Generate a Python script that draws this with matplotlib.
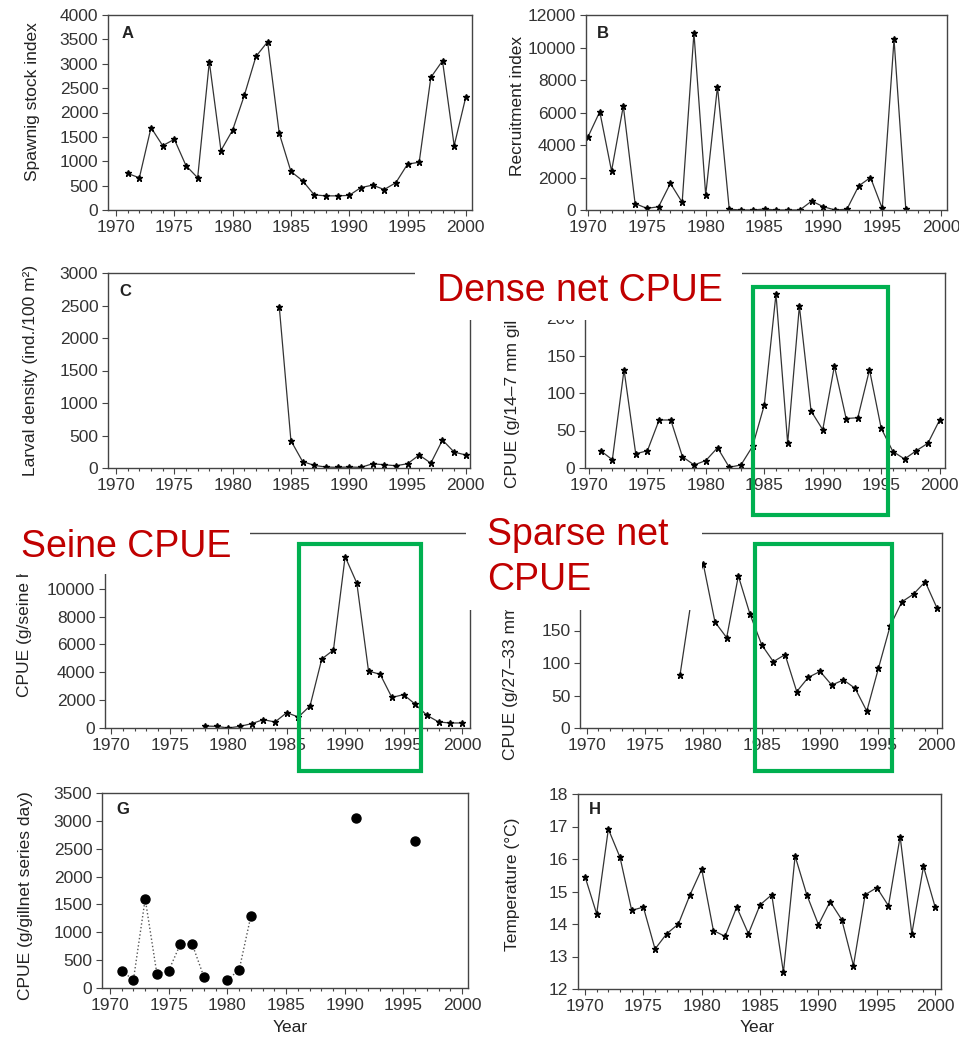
import numpy as np
import matplotlib.pyplot as plt
from matplotlib.patches import Rectangle
from matplotlib.ticker import MultipleLocator

plt.rcParams.update({
    "font.family": ["Liberation Sans", "DejaVu Sans"],
    "font.size": 12.5,
    "axes.linewidth": 1.0,
    "axes.edgecolor": "#444444",
    "xtick.color": "#444444",
    "ytick.color": "#444444",
    "xtick.labelcolor": "#333333",
    "ytick.labelcolor": "#333333",
    "xtick.direction": "out",
    "ytick.direction": "out",
})

ROT = "#C00000"
GRUEN = "#00B050"
LINIE = "#333333"
nan = np.nan

# ---------------------------------------------------------------
# Daten
# ---------------------------------------------------------------
jahre_a = list(range(1971, 2001))
laicher_a = [750, 660, 1690, 1320, 1450, 910, 660, 3040, 1220, 1640,
             2350, 3150, 3450, 1570, 790, 600, 310, 290, 290, 300,
             460, 510, 420, 560, 940, 980, 2720, 3060, 1320, 2320]

jahre_b = list(range(1970, 1998))
rekrut_b = [4500, 6050, 2400, 6400, 400, 100, 200, 1640, 470, 10900,
            920, 7600, 50, 0, 0, 60, 0, 0, 0, 550,
            200, 0, 50, 1480, 2000, 100, 10500, 60]

jahre_c = list(range(1984, 2001))
larven_c = [2480, 420, 100, 40, 15, 10, 15, 10, 65, 50,
            35, 65, 200, 75, 430, 245, 200]

jahre_d = list(range(1971, 2001))
dicht_d = [23, 11, 131, 19, 23, 64, 64, 15, 4, 10,
           27, 1, 4, 29, 84, 232, 33, 216, 76, 51,
           136, 66, 67, 131, 53, 22, 12, 23, 33, 64]

jahre_e = list(range(1978, 2001))
wade_e = [140, 120, 0, 120, 310, 600, 430, 1100, 790, 1590,
          4950, 5600, 12300, 10400, 4090, 3850, 2190, 2400, 1700, 910,
          430, 360, 360]

jahre_f = list(range(1978, 2001))
weit_f = [81, 200, 252, 163, 139, 234, 175, 128, 102, 113,
          56, 78, 87, 66, 74, 61, 26, 92, 157, 194,
          206, 225, 185]

jahre_g = list(range(1971, 1997))
stell_g = [300, 150, 1600, 250, 310, 790, 790, 200, nan, 150,
           320, 1290, nan, nan, nan, nan, nan, nan, nan, nan,
           3060, nan, nan, nan, nan, 2640]

jahre_h = list(range(1970, 2001))
temp_h = [15.46, 14.31, 16.92, 16.05, 14.42, 14.52, 13.23, 13.70, 14.00, 14.90,
          15.69, 13.80, 13.62, 14.52, 13.70, 14.59, 14.90, 12.51, 16.09, 14.90,
          13.98, 14.69, 14.13, 12.72, 14.90, 15.12, 14.56, 16.69, 13.70, 15.77,
          14.52]

# ---------------------------------------------------------------
# Layout in Pixeln
# ---------------------------------------------------------------
W, H = 959, 1038
fig = plt.figure(figsize=(W / 100, H / 100), dpi=100)


def panel(box, xlim, ylim, ystep, ylabel, lab_right, lab_cy, buchstabe=None, bpos=None):
    l, t, r, b = box
    ax = fig.add_axes([l / W, 1 - b / H, (r - l) / W, (b - t) / H])
    ax.set_xlim(*xlim)
    ax.set_ylim(*ylim)
    ax.xaxis.set_major_locator(MultipleLocator(5))
    ax.xaxis.set_minor_locator(MultipleLocator(1))
    ax.yaxis.set_major_locator(MultipleLocator(ystep))
    ax.tick_params(which="major", length=4, width=0.8, pad=3)
    ax.tick_params(which="minor", length=2.5, width=0.8)
    ax.set_ylabel(ylabel, color="#222222")
    ax.yaxis.set_label_coords((lab_right - l) / (r - l), 1 - (lab_cy - t) / (b - t))
    if buchstabe:
        fig.text(bpos[0] / W, 1 - bpos[1] / H, buchstabe, ha="center", va="center",
                 fontsize=12, fontweight="bold", color="#222222")
    return ax


def linie(ax, x, y):
    ax.plot(x, y, color=LINIE, linewidth=0.9, marker="*", markersize=5,
            markerfacecolor="black", markeredgecolor="black")


axA = panel((108, 15, 472, 210), (1969.31, 2000.53), (0, 4000), 500,
            "Spawnig stock index", 40, 102, "A", (128, 33))
linie(axA, jahre_a, laicher_a)

axB = panel((586, 15, 947, 210), (1969.83, 2000.5), (0, 12000), 2000,
            "Recruitment index", 525, 106, "B", (603, 34))
linie(axB, jahre_b, rekrut_b)

axC = panel((108, 273, 470, 468), (1969.31, 2000.36), (0, 3000), 500,
            "Larval density (ind./100 m²)", 38, 370, "C", (125, 292))
linie(axC, jahre_c, larven_c)

axD = panel((585, 273, 945, 468), (1969.66, 2000.46), (0, 260), 50,
            "CPUE (g/14–7 mm gillnet day)", 520, 371)
linie(axD, jahre_d, dicht_d)

axE = panel((105, 533, 470, 728), (1969.46, 2000.68), (0, 14000), 2000,
            "CPUE (g/seine haul)", 32, 618)
linie(axE, jahre_e, wade_e)

axF = panel((580, 533, 942, 728), (1969.44, 2000.44), (0, 300), 50,
            "CPUE (g/27–33 mm gillnet day)", 518, 638)
linie(axF, jahre_f, weit_f)

axG = panel((102, 793, 468, 988), (1969.32, 2000.5), (0, 3500), 500,
            "CPUE (g/gillnet series day)", 33, 896, "G", (123, 810))
axG.plot(jahre_g, stell_g, color="#555555", linewidth=1.0, linestyle=":",
         marker="o", markersize=6.5, markerfacecolor="black", markeredgecolor="black")
axG.set_xlabel("Year", color="#222222")
axG.xaxis.set_label_coords((290 - 102) / (468 - 102), -(1028 - 988) / (988 - 793) + 0.0)

axH = panel((578, 794, 941, 989), (1969.4, 2000.5), (12, 18), 1,
            "Temperature (°C)", 520, 884, "H", (595, 810))
linie(axH, jahre_h, temp_h)
axH.set_xlabel("Year", color="#222222")
axH.xaxis.set_label_coords((757 - 578) / (941 - 578), -(1028 - 989) / (989 - 794))

for ax in (axG, axH):
    ax.xaxis.label.set_va("center")

# ---------------------------------------------------------------
# Overlays: weiße Kästen, rote Beschriftung, grüne Rahmen
# ---------------------------------------------------------------
def kasten(l, t, r, b):
    fig.add_artist(Rectangle((l / W, 1 - b / H), (r - l) / W, (b - t) / H,
                             transform=fig.transFigure, facecolor="white",
                             edgecolor="none", zorder=5))


def rahmen(l, t, r, b):
    fig.add_artist(Rectangle((l / W, 1 - b / H), (r - l) / W, (b - t) / H,
                             transform=fig.transFigure, fill=False,
                             edgecolor=GRUEN, linewidth=3, zorder=7))


kasten(415, 253, 742, 320)
kasten(0, 506, 250, 574)
kasten(466, 505, 702, 610)

for txt, x, y in [("Dense net CPUE", 437, 301), ("Seine CPUE", 21, 557),
                  ("Sparse net", 487, 545), ("CPUE", 487, 590)]:
    fig.text(x / W, 1 - y / H, txt, ha="left", va="baseline",
             fontsize=27, color=ROT, zorder=6)

rahmen(753, 287, 888, 515)
rahmen(299, 544, 421, 771)
rahmen(755, 544, 892, 771)

fig.savefig("out.png", dpi=100)
